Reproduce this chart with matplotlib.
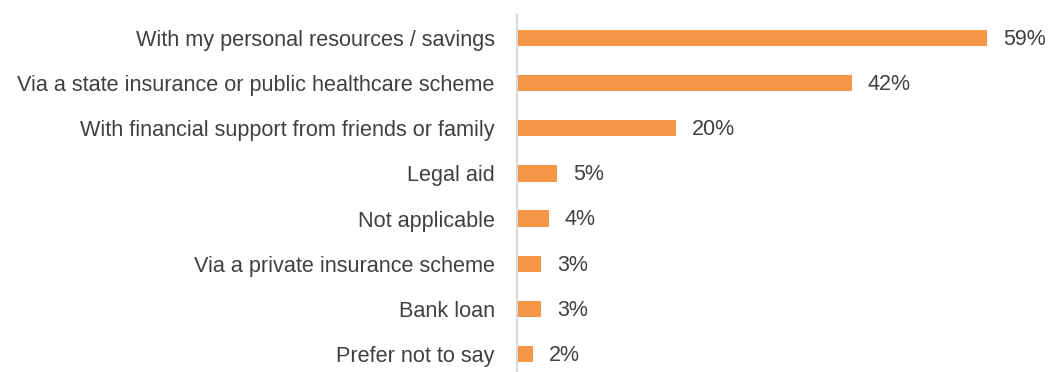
import matplotlib
matplotlib.use("Agg")
import matplotlib.pyplot as plt

categories = [
    "With my personal resources / savings",
    "Via a state insurance or public healthcare scheme",
    "With financial support from friends or family",
    "Legal aid",
    "Not applicable",
    "Via a private insurance scheme",
    "Bank loan",
    "Prefer not to say",
]
values = [59, 42, 20, 5, 4, 3, 3, 2]

bar_color = "#F79646"
text_color = "#404040"

plt.rcParams['font.family'] = ['Liberation Sans', 'DejaVu Sans']

fig = plt.figure(figsize=(10.51, 3.72), dpi=100)
ax = fig.add_axes([517 / 1051, 0, 526 / 1051, 357 / 372])

pos = list(range(len(categories)))
ax.barh(pos, values, height=0.36, color=bar_color)

for y, v in zip(pos, values):
    ax.text(v + 2, y + 0.03, f"{v}%", va="center", ha="left", fontsize=15.5, color=text_color)

ax.set_xlim(0, 66)
ax.set_ylim(7.40, -0.51)
ax.set_yticks(pos)
ax.set_yticklabels(categories, fontsize=15.6, color=text_color)
ax.tick_params(axis="y", length=0, pad=16)
ax.set_xticks([])

for side in ["top", "right", "bottom"]:
    ax.spines[side].set_visible(False)
ax.spines["left"].set_color("#D9D9D9")
ax.spines["left"].set_linewidth(1.5)

fig.savefig("out.png", dpi=100)
